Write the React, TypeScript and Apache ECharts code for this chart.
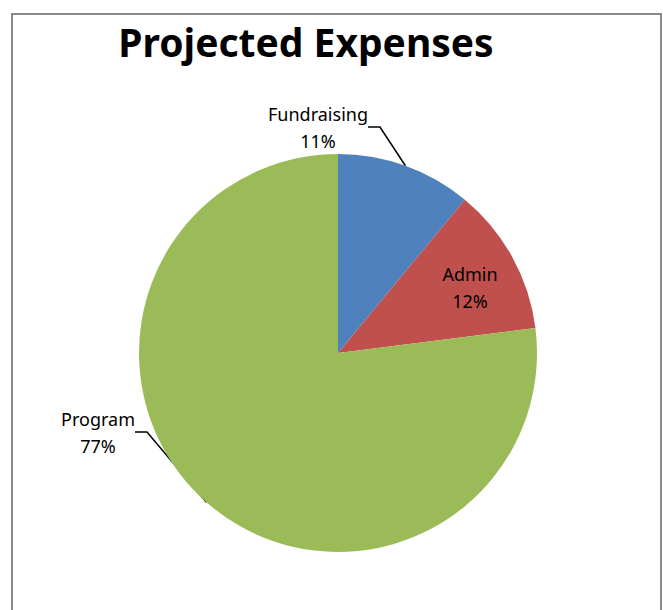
import React, { useEffect, useRef } from "react";
import * as echarts from "echarts";

const categories = ["Fundraising", "Admin", "Program"];
const values = [11, 12, 77];
const colors = ["#4F81BD", "#C0504D", "#9BBB59"];
const titleText = "Projected Expenses";

// label anchor positions (layout only)
const labelPos = [
  { x: 318, y: 127 },
  { x: 470, y: 287 },
  { x: 98, y: 432 },
];

export default function App() {
  const ref = useRef<HTMLDivElement>(null);
  useEffect(() => {
    if (!ref.current) return;
    const chart = echarts.init(ref.current, null, { renderer: "svg" });
    const font = "'Noto Sans', 'Liberation Sans', sans-serif";
    chart.setOption({
      animation: false,
      backgroundColor: "#ffffff",
      title: {
        text: titleText,
        left: 301,
        top: 17,
        textAlign: "center",
        textStyle: { fontFamily: font, fontWeight: "bold", fontSize: 39, color: "#000" },
      },
      graphic: [
        {
          type: "rect",
          shape: { x: 12, y: 14, width: 649, height: 620 },
          style: { fill: "none", stroke: "#898989", lineWidth: 2 },
          silent: true,
        },
      ],
      series: [
        {
          type: "pie",
          center: [338, 353],
          radius: [0, 199],
          startAngle: 90,
          clockwise: true,
          avoidLabelOverlap: false,
          data: categories.map((c, i) => ({
            name: c,
            value: values[i],
            itemStyle: { color: colors[i] },
            label: { position: i === 1 ? "inside" : "outside" },
            labelLine: { show: i !== 1 },
          })),
          label: {
            formatter: "{b}\n{d}%",
            fontFamily: font,
            fontSize: 18,
            lineHeight: 27,
            color: "#000",
          },
          labelLine: {
            show: true,
            length: 30,
            length2: 12,
            lineStyle: { color: "#000", width: 1.5 },
          },
          labelLayout: (p: any) => ({
            x: labelPos[p.dataIndex].x,
            y: labelPos[p.dataIndex].y,
            align: "center",
            verticalAlign: "middle",
          }),
        },
      ],
    });
    return () => chart.dispose();
  }, []);
  return (
    <div
      ref={ref}
      style={{ position: "fixed", left: 0, top: 0, width: 663, height: 610 }}
    />
  );
}
